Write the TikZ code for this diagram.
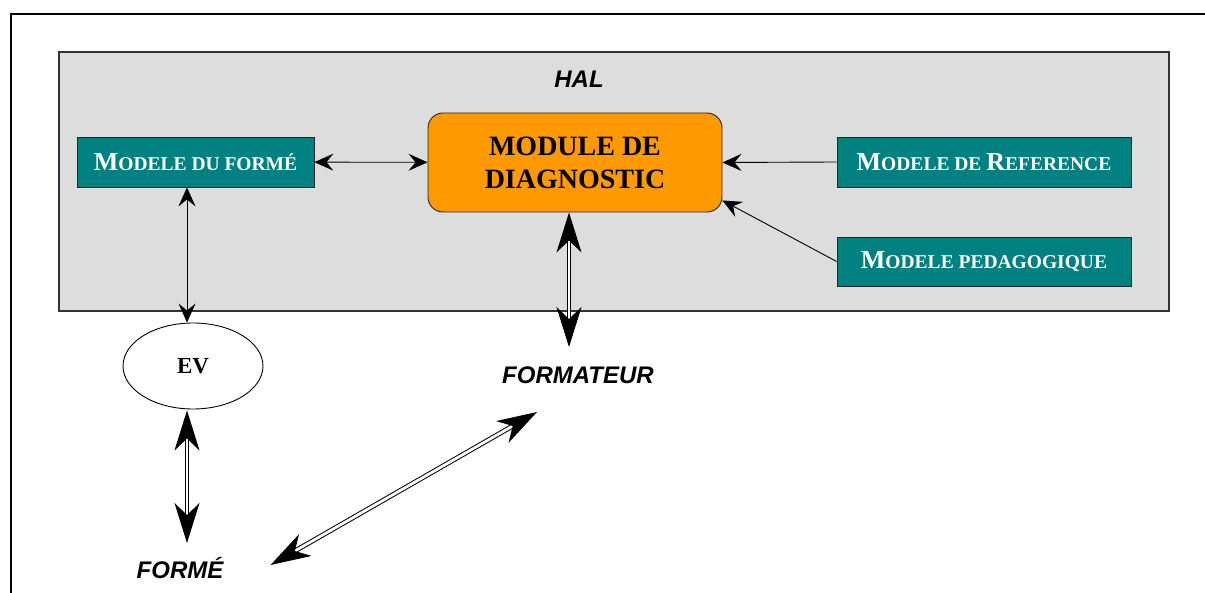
\documentclass[tikz,border=0pt]{standalone}
\usepackage{fontspec}
\setmainfont{Liberation Serif}
\newfontfamily\arialf{Liberation Sans}
\usetikzlibrary{arrows.meta,calc,shapes.geometric}
\definecolor{tealbox}{HTML}{008080}
\definecolor{orangebox}{HTML}{FF9900}
\definecolor{halgray}{HTML}{DDDDDD}
\newcommand\bsc[2]{{\fontsize{26}{26}\selectfont #1}{\fontsize{19.5}{19.5}\selectfont #2}}
\tikzset{
  model/.style={draw=black!85, line width=0.8pt, fill=tealbox, text=white,
    font=\bfseries, minimum height=50pt, inner sep=0pt},
  lbl/.style={font=\arialf\bfseries\itshape\fontsize{24}{26}\selectfont, inner sep=0pt, anchor=base},
  thinarr/.style={line width=0.9pt, -{Stealth[length=19pt,width=17pt,inset=7pt]}},
  thinboth/.style={line width=0.9pt, {Stealth[length=19pt,width=17pt,inset=7pt]}-{Stealth[length=19pt,width=17pt,inset=7pt]}},
  dblarr/.style={double, double distance=2.8pt, line width=1pt,
    {Stealth[length=40pt,width=25pt,inset=12pt]}-{Stealth[length=40pt,width=25pt,inset=12pt]}},
}
\begin{document}
\begin{tikzpicture}[x=1pt,y=-1pt]
\useasboundingbox (0,0) rectangle (1205,593);
% outer frame (top and left)
\draw[line width=2pt] (1205,14) -- (11,14) -- (11,593);
% HAL container
\node[draw=black!80, line width=1.4pt, fill=halgray, minimum width=1110pt, minimum height=259pt, inner sep=0pt] (hal) at (614,181.5) {};
\node[lbl] (haltxt) at (579,88) {HAL};
% boxes
\node[model, minimum width=237pt] (modf) at (195.5,162) {\bsc{M}{ODELE DU FORMÉ}};
\node[draw=black!85, line width=0.9pt, fill=orangebox, rounded corners=15pt,
  minimum width=294pt, minimum height=99pt, inner sep=0pt, align=center,
  font=\bfseries\fontsize{28}{33}\selectfont] (diag) at (575,162.5) {MODULE DE\\DIAGNOSTIC};
\node[model, minimum width=294pt] (ref) at (984,162) {\bsc{M}{ODELE DE }\bsc{R}{EFERENCE}};
\node[model, minimum width=294pt, minimum height=49pt] (ped) at (984,261.5) {\bsc{M}{ODELE PEDAGOGIQUE}};
% EV ellipse
\node[ellipse, draw, line width=0.9pt, fill=white, minimum width=140pt, minimum height=86pt, inner sep=0pt,
  font=\bfseries\fontsize{23}{23}\selectfont] (ev) at (193,366) {EV};
% labels
\node[lbl] (formateur) at (578,384) {FORMATEUR};
\node[lbl] (forme) at (180,578) {FORMÉ};
% connector end points
\coordinate (modfS) at ($(modf.south)+(-8.5,0)$);
\coordinate (evN) at ($(ev.north)+(-6,0)$);
\coordinate (evS) at ($(ev.south)+(-6,1)$);
\coordinate (formeN) at ($(forme.base)+(7,-35)$);
\coordinate (diagS) at ($(diag.south)+(-6,0)$);
\coordinate (formateurN) at ($(formateur.base)+(-9,-37)$);
\coordinate (pedIn) at ($(diag.south east)+(0,-12)$);
\coordinate (formeE) at ($(forme.base east)+(47,-13)$);
\coordinate (formateurSW) at ($(formateur.base west)+(35,28)$);
% connectors
\draw[thinboth] (modf) -- (diag);
\draw[thinarr] (ref.west) -- (diag.east);
\draw[thinarr] (ped.west) -- (pedIn);
\draw[thinboth] (modfS) -- (evN);
\draw[dblarr] (diagS) -- (formateurN);
\draw[dblarr] (evS) -- (formeN);
\draw[dblarr] (formeE) -- (formateurSW);
\end{tikzpicture}
\end{document}
